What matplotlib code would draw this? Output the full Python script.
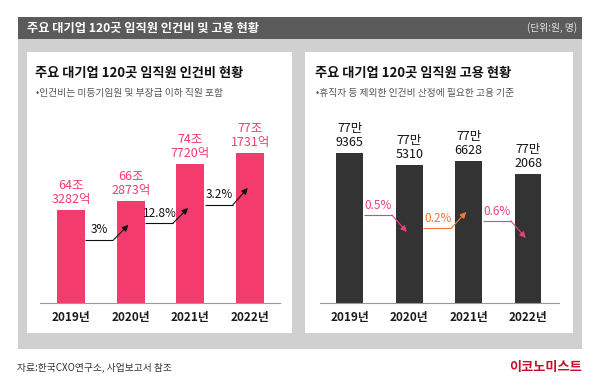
import matplotlib
matplotlib.use('Agg')
import matplotlib.pyplot as plt
from matplotlib.patches import Rectangle

plt.rcParams['font.family'] = ['Noto Sans CJK KR', 'DejaVu Sans']

# 데이터
years = ['2019년', '2020년', '2021년', '2022년']
labor_cost_eok = [643282, 662873, 747720, 771731]   # 인건비 (억 원)
employees = [779365, 775310, 776628, 772068]        # 고용 (명)
cost_change = ['3%', '12.8%', '3.2%']
emp_change = ['0.5%', '0.2%', '0.6%']
emp_up = [False, True, False]

# 스타일
PINK = '#f43b6e'
DARK = '#333333'
ARROW_PINK = '#e8407f'
ARROW_ORANGE = '#f07636'

W, H = 600, 392
fig = plt.figure(figsize=(6, 3.92), dpi=100)


def fx(px):
    return px / W


def fy(py):
    return 1 - py / H


def rect(x0, y0, x1, y1, color):
    fig.add_artist(Rectangle((fx(x0), fy(y1)), fx(x1) - fx(x0), fy(y0) - fy(y1),
                             transform=fig.transFigure, color=color, zorder=-5, lw=0))


# 배경
rect(18, 39, 582, 349, '#d0d0d0')
rect(18, 17, 582, 39, '#5b5b5b')
rect(27, 52, 292, 333, 'white')
rect(305, 52, 573, 333, 'white')

fig.text(fx(27), fy(28), '주요 대기업 120곳 임직원 인건비 및 고용 현황', color='white',
         fontsize=8.8, fontweight='bold', va='center', ha='left')
fig.text(fx(577), fy(28), '(단위:원, 명)', color='#e6e6e6', fontsize=7, va='center', ha='right')

fig.text(fx(35), fy(73), '주요 대기업 120곳 임직원 인건비 현황', color='#111111',
         fontsize=9.5, fontweight='bold', va='center')
fig.text(fx(36), fy(93), '•인건비는 미등기임원 및 부장급 이하 직원 포함', color='#555555',
         fontsize=7, va='center')
fig.text(fx(315), fy(73), '주요 대기업 120곳 임직원 고용 현황', color='#111111',
         fontsize=9.5, fontweight='bold', va='center')
fig.text(fx(316), fy(93), '•휴직자 등 제외한 인건비 산정에 필요한 고용 기준', color='#555555',
         fontsize=7, va='center')

fig.text(fx(17), fy(368), '자료:한국CXO연구소, 사업보고서 참조', color='#333333',
         fontsize=7, va='center')
fig.text(fx(582), fy(367), '이코노미스트', color='#c8102e', fontsize=9.5,
         fontweight='bold', va='center', ha='right')


def setup(ax):
    ax.patch.set_alpha(0)
    for s in ['top', 'left', 'right']:
        ax.spines[s].set_visible(False)
    ax.spines['bottom'].set_color('#999999')
    ax.spines['bottom'].set_linewidth(0.8)
    ax.set_yticks([])
    ax.set_xticks(range(len(years)))
    ax.set_xticklabels(years, fontsize=8.5, fontweight='bold', color='#1a1a1a')
    ax.tick_params(axis='x', length=0, pad=6)


def step_arrow(ax, i, y0, dy, color, label, label_color):
    x0 = i + 0.24
    xc = i + 0.71
    xt = i + 0.96
    ax.plot([x0, xc], [y0, y0], color=color, lw=0.8, zorder=4, solid_capstyle='butt')
    ax.annotate('', xy=(xt, y0 + dy), xytext=(xc, y0),
                arrowprops=dict(arrowstyle='-|>', color=color, lw=0.8,
                                mutation_scale=9, shrinkA=0, shrinkB=0), zorder=5)
    ax.annotate(label, xy=(i + 0.48, y0), xytext=(0, 2.5), textcoords='offset points',
                ha='center', va='bottom', fontsize=8.5, color=label_color, zorder=6)


# 왼쪽: 인건비
ax1 = fig.add_axes([fx(40), fy(303), fx(280) - fx(40), fy(120) - fy(303)])
setup(ax1)
cost_jo = [v / 10000 for v in labor_cost_eok]
ax1.bar(range(len(years)), cost_jo, width=0.47, color=PINK, zorder=2)
ax1.set_xlim(-0.52, 3.50)
ax1.set_ylim(43.4, 43.4 + 183 / 4.44)
for i, v in enumerate(labor_cost_eok):
    ax1.annotate(f'{v // 10000}조\n{v % 10000}억', xy=(i, v / 10000), xytext=(0, 3),
                 textcoords='offset points', ha='center', va='bottom', fontsize=9,
                 color=PINK, linespacing=1.1)

cost_arrow_y = [57.6, 61.4, 65.5]
cost_arrow_dy = [3.4, 3.4, 3.8]
for i in range(3):
    step_arrow(ax1, i, cost_arrow_y[i], cost_arrow_dy[i], '#111111', cost_change[i], '#111111')

# 오른쪽: 고용
ax2 = fig.add_axes([fx(320), fy(303), fx(559) - fx(320), fy(120) - fy(303)])
setup(ax2)
ax2.bar(range(len(years)), employees, width=0.45, color=DARK, zorder=2)
ax2.set_xlim(-0.50, 3.52)
ax2.set_ylim(727245, 727245 + 183 / 0.002878)
for i, v in enumerate(employees):
    ax2.annotate(f'{v // 10000}만\n{v % 10000:04d}', xy=(i, v), xytext=(0, 3),
                 textcoords='offset points', ha='center', va='bottom', fontsize=9,
                 color='#111111', linespacing=1.1)

emp_arrow_y = [757822, 753305, 755737]
for i in range(3):
    c = ARROW_ORANGE if emp_up[i] else ARROW_PINK
    dy = 5560 if emp_up[i] else -5900
    step_arrow(ax2, i, emp_arrow_y[i], dy, c, emp_change[i], c)

fig.savefig('out.png', dpi=100)
